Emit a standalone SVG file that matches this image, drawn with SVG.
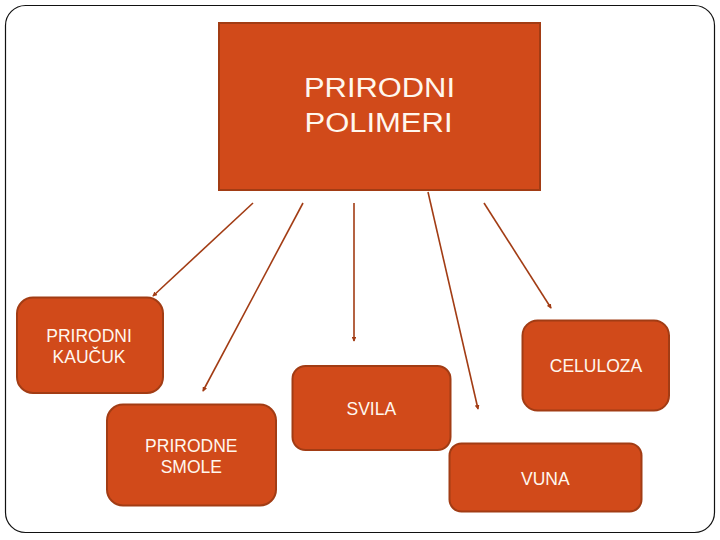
<svg xmlns="http://www.w3.org/2000/svg" width="720" height="540" viewBox="0 0 720 540">
<defs>
<style>
.box{fill:#D14A1A;stroke:#A23C14;stroke-width:2}
.t{fill:#FFF7EE;font-family:"Liberation Sans",Arial,sans-serif;font-size:17.5px;text-anchor:middle}
.tb{fill:#FFF7EE;font-family:"Liberation Sans",Arial,sans-serif;font-size:27px;text-anchor:middle}
.c{stroke:#A23C14;stroke-width:1.6;fill:none;marker-end:url(#ah)}
</style>
<marker id="ah" viewBox="0 0 6 6" refX="5" refY="3" markerWidth="3" markerHeight="3" orient="auto" markerUnits="strokeWidth">
<path d="M0,0 L6,3 L0,6 z" fill="#A23C14"/>
</marker>
</defs>
<rect x="0" y="0" width="720" height="540" fill="#fff"/>
<rect x="5.5" y="5.5" width="709" height="527" rx="20" ry="20" fill="none" stroke="#111" stroke-width="1.2"/>
<g id="connectors">
<line class="c" x1="253" y1="203" x2="153" y2="296"/>
<line class="c" x1="303" y1="203" x2="203" y2="391"/>
<line class="c" x1="354" y1="203" x2="354" y2="341"/>
<line class="c" x1="428" y1="192" x2="478" y2="409"/>
<line class="c" x1="484" y1="203" x2="551" y2="308"/>
</g>
<g id="main">
<rect class="box" x="219" y="23" width="321" height="167"/>
<text class="tb" x="379.5" y="97.3" textLength="151" lengthAdjust="spacingAndGlyphs">PRIRODNI</text>
<text class="tb" x="378.5" y="131.7" textLength="148" lengthAdjust="spacingAndGlyphs">POLIMERI</text>
</g>
<g id="kaucuk">
<rect class="box" x="17" y="297.5" width="146" height="95.5" rx="16"/>
<text class="t" x="89" y="341.7">PRIRODNI</text>
<text class="t" x="89" y="362.7">KAUČUK</text>
</g>
<g id="smole">
<rect class="box" x="107" y="404.5" width="169" height="101" rx="16"/>
<text class="t" x="191.3" y="452.3">PRIRODNE</text>
<text class="t" x="191.3" y="473.3">SMOLE</text>
</g>
<g id="svila">
<rect class="box" x="292.5" y="366" width="158" height="84" rx="13"/>
<text class="t" x="371.3" y="415.3">SVILA</text>
</g>
<g id="celuloza">
<rect class="box" x="522.5" y="320.5" width="146.5" height="90" rx="15"/>
<text class="t" x="596" y="371.7">CELULOZA</text>
</g>
<g id="vuna">
<rect class="box" x="449.5" y="443.5" width="192" height="68" rx="12"/>
<text class="t" x="545.3" y="485">VUNA</text>
</g>
</svg>
